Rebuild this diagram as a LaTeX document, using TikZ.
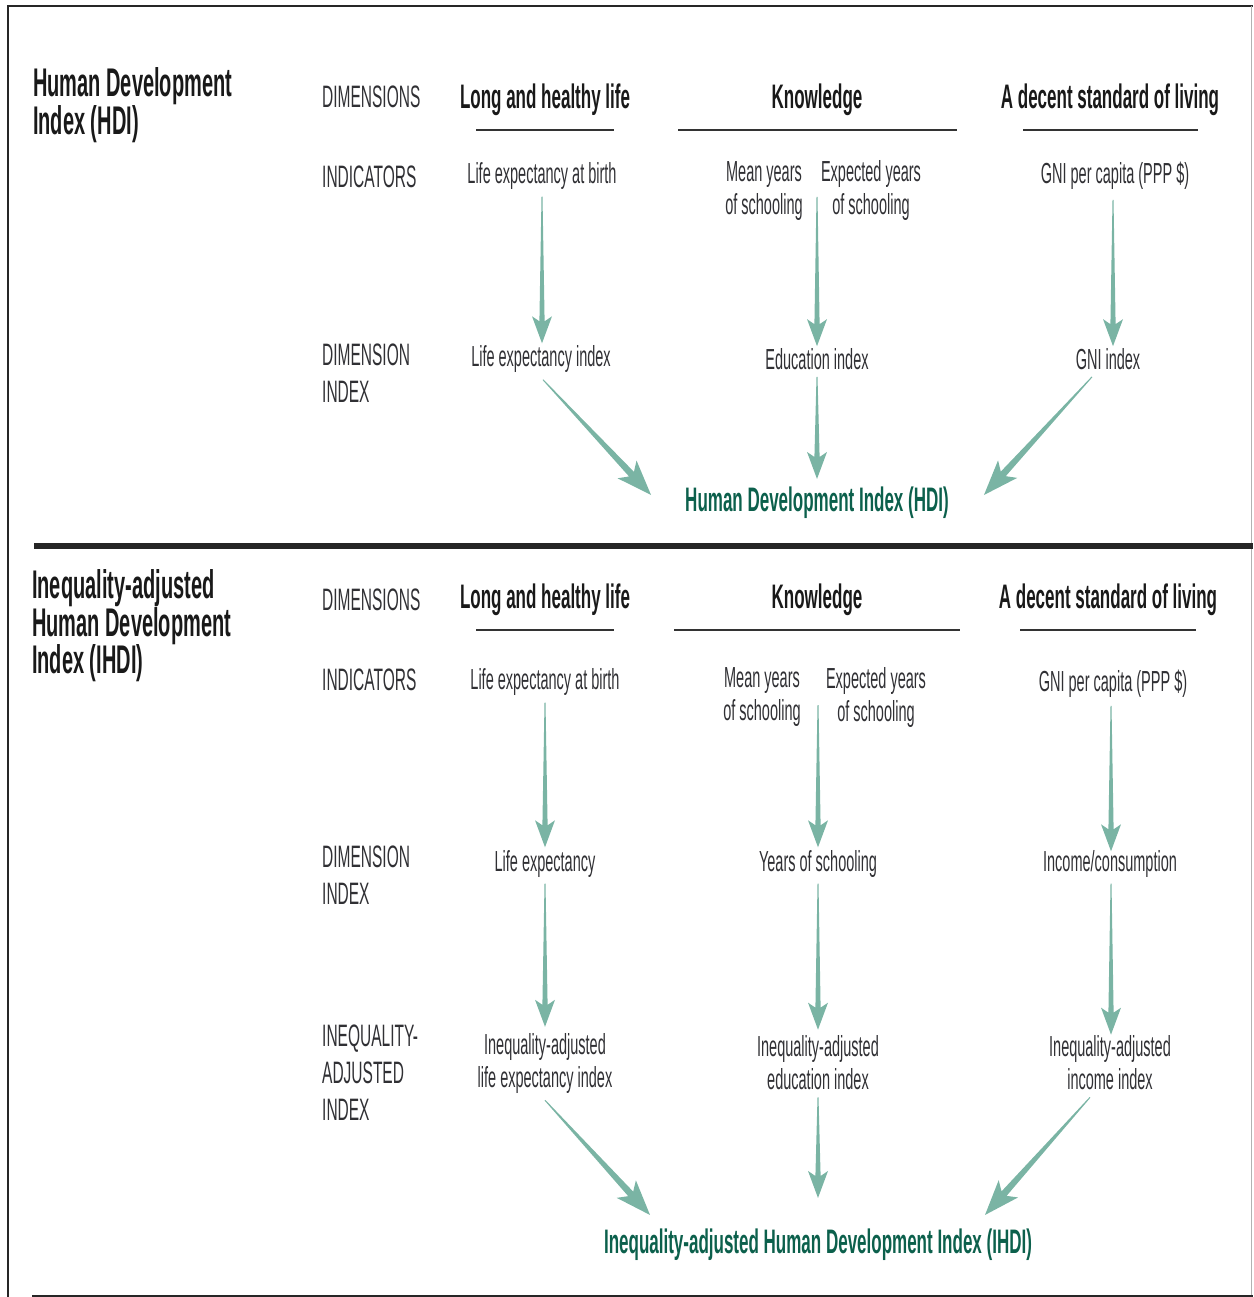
\documentclass[tikz,border=0pt]{standalone}
\usepackage{fontspec}
\setmainfont{Liberation Sans}[FakeStretch=0.5]
\usetikzlibrary{calc}

\definecolor{arrowteal}{RGB}{122,180,164}
\definecolor{indexgreen}{RGB}{12,96,76}
\definecolor{ink}{RGB}{48,48,52}

% Tapered arrow: thin at the start, widening towards a barbed head.
% #1 = size factor, #2 = start point, #3 = tip
\newcommand\taper[3][1]{%
  \pgfmathsetlengthmacro\tpL{#1*22pt}%
  \pgfmathsetlengthmacro\tpD{#1*27pt}%
  \pgfmathsetlengthmacro\tpS{#1*2.6pt}%
  \pgfmathsetlengthmacro\tpH{#1*10pt}%
  \coordinate (tpA) at (#2);
  \coordinate (tpB) at (#3);
  \coordinate (tpC) at ($(tpB)!\tpL!(tpA)$);
  \coordinate (tpE) at ($(tpB)!\tpD!(tpA)$);
  \fill[arrowteal]
    ($(tpA)!0.5pt!90:(tpB)$) -- ($(tpC)!\tpS!90:(tpB)$) --
    ($(tpE)!\tpH!90:(tpB)$) -- (tpB) --
    ($(tpE)!\tpH!-90:(tpB)$) -- ($(tpC)!\tpS!-90:(tpB)$) --
    ($(tpA)!0.5pt!-90:(tpB)$) -- cycle;
}

\tikzset{
  rowlabel/.style={anchor=west, align=left, inner sep=0pt, text=ink,
    font=\fontsize{31}{37}\selectfont},
  dimhead/.style={inner sep=0pt, text=black!90,
    font=\bfseries\fontsize{34}{40}\selectfont},
  ind/.style={inner sep=0pt, align=center, text=ink,
    font=\fontsize{29}{33}\selectfont},
  indexname/.style={inner sep=0pt, text=indexgreen,
    font=\bfseries\fontsize{34}{40}\selectfont},
  sectitle/.style={anchor=west, align=left, inner sep=0pt, text=black!90,
    font=\bfseries\fontsize{40}{37.5}\selectfont},
  dimrule/.style={line width=2pt, black!80},
  frameline/.style={black!85},
}

\begin{document}
\begin{tikzpicture}[x=1pt, y=-1pt]
\useasboundingbox (0,0) rectangle (1253,1297);

% frame and section rules
\draw[frameline, line width=1.5pt] (8,1297) -- (8,6) -- (1253,6);
\draw[black!30, line width=1pt] (1251.5,6) -- (1251.5,1297);
\draw[frameline, line width=6pt] (34,546) -- (1253,546);
\draw[frameline, line width=2pt] (32,1296) -- (1253,1296);

% ---------------- HDI ----------------
\node[sectitle] (hdititle) at (33,105) {Human Development\\Index (HDI)};
\node[rowlabel] (dimA) at (322,97) {DIMENSIONS};
\node[rowlabel] (indA) at (322,177) {INDICATORS};
\node[rowlabel] (diA) at (322,373) {DIMENSION\\INDEX};

\node[dimhead] (lhlA) at (545,100) {Long and healthy life};
\node[dimhead] (knA) at (817,100) {Knowledge};
\node[dimhead] (dslA) at (1110,100) {A decent standard of living};
\draw[dimrule] (476,130) -- (614,130);
\draw[dimrule] (678,130) -- (957,130);
\draw[dimrule] (1023,130) -- (1198,130);

\node[ind] (lebA) at (542,176) {Life expectancy at birth};
\node[ind] (mysA) at (764,191) {Mean years\\of schooling};
\node[ind] (eysA) at (871,191) {Expected years\\of schooling};
\node[ind] (gniA) at (1115,176) {GNI per capita (PPP \$)};

\node[ind] (leiA) at (541,359) {Life expectancy index};
\node[ind] (eduA) at (817,359) {Education index};
\node[ind] (gniiA) at (1108,359) {GNI index};

\node[indexname] (hdi) at (817,503) {Human Development Index (HDI)};

\taper{$(lebA.south)+(0,7)$}{$(leiA.north)+(1,-2)$}
\taper{$(eduA.north |- mysA.east)+(0,6)$}{$(eduA.north)+(0,-2)$}
\taper{$(gniA.south)+(-2,10)$}{$(gniiA.north)+(5,-2)$}
\taper[1.3]{$(leiA.south)+(2,7)$}{$(hdi.west)+(-34,-8)$}
\taper{$(eduA.south)+(0,7)$}{$(hdi.north)+(0,-8)$}
\taper[1.3]{$(gniiA.south)+(-16,7)$}{$(hdi.east)+(35,-8)$}

% ---------------- IHDI ----------------
\node[sectitle] (ihdititle) at (32,626) {Inequality-adjusted\\Human Development\\Index (IHDI)};
\node[rowlabel] (dimB) at (322,600) {DIMENSIONS};
\node[rowlabel] (indB) at (322,680) {INDICATORS};
\node[rowlabel] (diB) at (322,875) {DIMENSION\\INDEX};
\node[rowlabel] (iaiB) at (322,1073) {INEQUALITY-\\ADJUSTED\\INDEX};

\node[dimhead] (lhlB) at (545,600) {Long and healthy life};
\node[dimhead] (knB) at (817,600) {Knowledge};
\node[dimhead] (dslB) at (1108,600) {A decent standard of living};
\draw[dimrule] (476,630) -- (614,630);
\draw[dimrule] (674,630) -- (960,630);
\draw[dimrule] (1020,630) -- (1196,630);

\node[ind] (lebB) at (545,682) {Life expectancy at birth};
\node[ind] (mysB) at (762,697) {Mean years\\of schooling};
\node[ind] (eysB) at (876,697) {Expected years\\of schooling};
\node[ind] (gniB) at (1113,684) {GNI per capita (PPP \$)};

\node[ind] (leB) at (545,864) {Life expectancy};
\node[ind] (ysB) at (818,864) {Years of schooling};
\node[ind] (icB) at (1110,864) {Income/consumption};

\node[ind] (ialeB) at (545,1063) {Inequality-adjusted\\life expectancy index};
\node[ind] (iaedB) at (818,1063) {Inequality-adjusted\\education index};
\node[ind] (iaicB) at (1110,1063) {Inequality-adjusted\\income index};

\node[indexname] (ihdi) at (818,1245) {Inequality-adjusted Human Development Index (IHDI)};

\taper{$(lebB.south)+(0,7)$}{$(leB.north)+(0,-3)$}
\taper{$(ysB.north |- mysB.east)+(0,8)$}{$(ysB.north)+(0,-3)$}
\taper{$(gniB.south)+(-2,8)$}{$(icB.north)+(1,1)$}
\taper{$(leB.south)+(0,6)$}{$(ialeB.north)+(0,-6)$}
\taper{$(ysB.south)+(0,6)$}{$(iaedB.north)+(0,-6)$}
\taper{$(icB.south)+(1,6)$}{$(iaicB.north)+(1,-1)$}
\taper[1.3]{$(ialeB.south)+(0,7)$}{$(ihdi.north)+(-168,-14)$}
\taper{$(iaedB.south)+(0,7)$}{$(ihdi.north)+(0,-31)$}
\taper[1.3]{$(iaicB.south)+(-20,7)$}{$(ihdi.north)+(167,-14)$}
\end{tikzpicture}
\end{document}
